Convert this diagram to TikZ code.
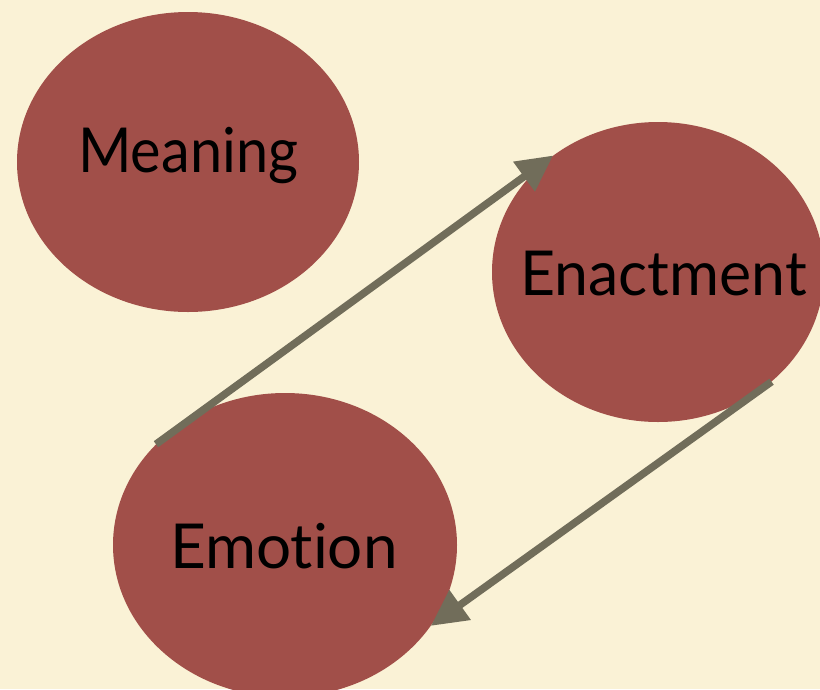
\documentclass[tikz,border=0pt]{standalone}
\usepackage{fontspec}
\setmainfont{Lato}[Ligatures=NoCommon]
\usetikzlibrary{shapes.geometric,arrows.meta}
\definecolor{bgcream}{RGB}{250,242,214}
\definecolor{blobred}{RGB}{161,79,73}
\definecolor{linkgray}{RGB}{113,109,90}
\tikzset{
  blob/.style={ellipse, fill=blobred, draw=none, inner sep=0pt},
  word/.style={anchor=base west, inner sep=0pt, font=\fontsize{62}{70}\selectfont, text=black},
  link/.style={draw=linkgray, line width=7.5pt, -{Triangle[length=36pt,width=35pt]}}
}
\begin{document}
\begin{tikzpicture}[x=1pt,y=-1pt]
\path[use as bounding box, fill=bgcream] (0,0) rectangle (820,689);
\clip (0,0) rectangle (820,689);
\node[blob, minimum width=342pt, minimum height=300pt] (meaning) at (188,162) {};
\node[blob, minimum width=332pt, minimum height=300pt] (enact) at (658,272) {};
\node[blob, minimum width=344pt, minimum height=304pt] (emo) at (285,545) {};
\node[word] (tmeaning) at (78,172) {\scalebox{0.93}[1]{Meaning}};
\node[word] (tenact) at (520,295) {\scalebox{0.98}[1]{Enactment}};
\node[word] (temo) at (170,568) {Emotion};
\draw[link] (emo.142) -- (enact.132);
\draw[link] (enact.-44) -- (emo.-29);
\end{tikzpicture}
\end{document}
